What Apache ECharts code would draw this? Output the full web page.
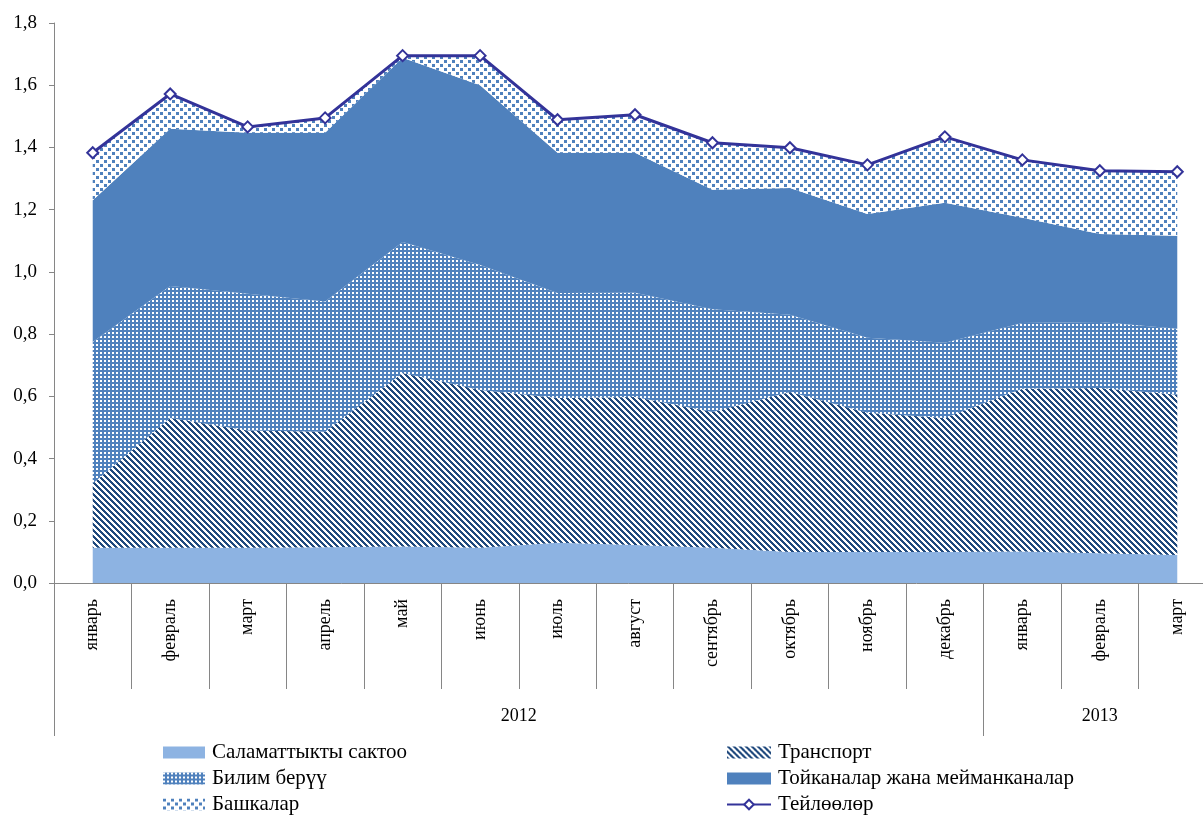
<!DOCTYPE html>
<html>
<head>
<meta charset="utf-8">
<script src="https://cdn.jsdelivr.net/npm/echarts@6/dist/echarts.min.js"></script>
<style>
	html, body { margin: 0; padding: 0; background: #ffffff; }
	#chart { width: 1203px; height: 816px; }
</style>
</head>
<body>
<div id="chart"></div>
<script>
var months = ['январь', 'февраль', 'март', 'апрель', 'май', 'июнь', 'июль', 'август',
	'сентябрь', 'октябрь', 'ноябрь', 'декабрь', 'январь', 'февраль', 'март'];
var years = ['2012', '2013'];

var health    = [0.113, 0.113, 0.113, 0.115, 0.117, 0.113, 0.129, 0.122, 0.113, 0.100, 0.100, 0.100, 0.101, 0.096, 0.090];
var transport = [0.207, 0.417, 0.377, 0.371, 0.558, 0.507, 0.466, 0.476, 0.437, 0.514, 0.447, 0.430, 0.523, 0.531, 0.515];
var education = [0.455, 0.425, 0.440, 0.419, 0.421, 0.402, 0.337, 0.335, 0.330, 0.248, 0.241, 0.242, 0.212, 0.212, 0.212];
var hotels    = [0.455, 0.505, 0.517, 0.542, 0.592, 0.578, 0.451, 0.450, 0.384, 0.408, 0.398, 0.450, 0.338, 0.283, 0.299];
var others    = [0.153, 0.112, 0.019, 0.048, 0.007, 0.095, 0.106, 0.122, 0.151, 0.129, 0.158, 0.212, 0.186, 0.203, 0.206];
var total     = [1.383, 1.572, 1.466, 1.495, 1.695, 1.695, 1.489, 1.505, 1.415, 1.399, 1.344, 1.434, 1.360, 1.325, 1.322];

var names = {
	health: 'Саламаттыкты сактоо',
	transport: 'Транспорт',
	education: 'Билим берүү',
	hotels: 'Тойканалар жана мейманканалар',
	others: 'Башкалар',
	total: 'Тейлөөлөр'
};

var colors = {
	health: '#8db3e2',
	blue: '#4f81bd',
	navy: '#1f497d',
	line: '#333399',
	axis: '#868686',
	text: '#000000'
};

var font = 'Liberation Serif, Times New Roman, serif';

// small tiles for the hatched areas
function makePattern(size, bg, fg, test) {
	var c = document.createElement('canvas');
	c.width = size;
	c.height = size;
	var ctx = c.getContext('2d');
	ctx.fillStyle = bg;
	ctx.fillRect(0, 0, size, size);
	ctx.fillStyle = fg;
	for (var x = 0; x < size; x++) {
		for (var y = 0; y < size; y++) {
			if (test(x, y, size)) ctx.fillRect(x, y, 1, 1);
		}
	}
	return { image: c, repeat: 'repeat' };
}

var transportFill = makePattern(6, '#ffffff', colors.navy, function (x, y, s) {
	return ((x - y + s * 2) % s) < 3;
});
var educationFill = makePattern(4, colors.blue, '#ffffff', function (x, y) {
	return x < 2 && y < 2;
});
var othersFill = makePattern(8, '#ffffff', colors.blue, function (x, y) {
	return (x < 3 && y < 3) || (x >= 4 && x < 7 && y >= 4 && y < 7);
});

function areaSeries(name, data, fill) {
	return {
		name: name,
		type: 'line',
		stack: 'all',
		data: data,
		symbol: 'none',
		silent: true,
		itemStyle: { color: colors.blue },
		lineStyle: { width: 0 },
		areaStyle: { color: fill, opacity: 1 }
	};
}

function legendBlock(left, iconWidth, items) {
	return {
		orient: 'vertical',
		left: left,
		top: 742,
		height: 74,
		padding: 0,
		itemWidth: iconWidth,
		itemHeight: 12,
		itemGap: 5,
		textStyle: { fontSize: 21, color: colors.text, fontFamily: font, padding: [0, 0, 0, 2] },
		data: items
	};
}

var chart = echarts.init(document.getElementById('chart'));

var option = {
	animation: false,
	backgroundColor: '#ffffff',
	textStyle: { fontFamily: font },
	grid: {
		left: 54,
		top: 23,
		width: 1162,
		height: 560,
		outerBoundsMode: 'none',
		containLabel: false
	},
	xAxis: [
		{
			type: 'category',
			data: months,
			boundaryGap: true,
			axisLine: { show: true, lineStyle: { color: colors.axis, width: 1 } },
			axisTick: { show: true, interval: 0, length: 106, lineStyle: { color: colors.axis } },
			axisLabel: {
				interval: 0,
				rotate: 90,
				margin: 16,
				color: colors.text,
				fontSize: 18,
				fontFamily: font
			}
		},
		{
			type: 'value',
			position: 'bottom',
			offset: 106,
			min: 0,
			max: 15,
			axisLine: { show: false },
			splitLine: { show: false },
			axisTick: {
				show: true,
				customValues: [0, 12, 15],
				length: 47,
				lineStyle: { color: colors.axis }
			},
			axisLabel: {
				customValues: [6, 13.5],
				margin: 18,
				color: colors.text,
				fontSize: 18,
				fontFamily: font,
				formatter: function (v) {
					return v < 12 ? years[0] : years[1];
				}
			}
		}
	],
	yAxis: {
		type: 'value',
		min: 0,
		max: 1.8,
		interval: 0.2,
		axisLine: { show: true, lineStyle: { color: colors.axis } },
		axisTick: { show: true, inside: false, length: 5, lineStyle: { color: colors.axis } },
		splitLine: { show: false },
		axisLabel: {
			margin: 17,
			color: colors.text,
			fontSize: 19,
			fontFamily: font,
			formatter: function (v) {
				return v.toFixed(1).replace('.', ',');
			}
		}
	},
	legend: [
		legendBlock(163, 42, [
			{ name: names.health, icon: 'rect', itemStyle: { color: colors.health, borderWidth: 0 } },
			{ name: names.education, icon: 'rect', itemStyle: { color: educationFill, borderWidth: 0 } },
			{ name: names.others, icon: 'rect', itemStyle: { color: othersFill, borderWidth: 0 } }
		]),
		legendBlock(726, 44, [
			{ name: names.transport, icon: 'rect', itemStyle: { color: transportFill, borderWidth: 0 } },
			{ name: names.hotels, icon: 'rect', itemStyle: { color: colors.blue, borderWidth: 0 } },
			{ name: names.total }
		])
	],
	series: [
		areaSeries(names.health, health, colors.health),
		areaSeries(names.transport, transport, transportFill),
		areaSeries(names.education, education, educationFill),
		areaSeries(names.hotels, hotels, colors.blue),
		areaSeries(names.others, others, othersFill),
		{
			name: names.total,
			type: 'line',
			data: total,
			z: 5,
			symbol: 'diamond',
			symbolSize: 11,
			showSymbol: true,
			itemStyle: { color: '#ffffff', borderColor: colors.line, borderWidth: 2 },
			lineStyle: { color: colors.line, width: 3 }
		}
	]
};

chart.setOption(option);
</script>
</body>
</html>
